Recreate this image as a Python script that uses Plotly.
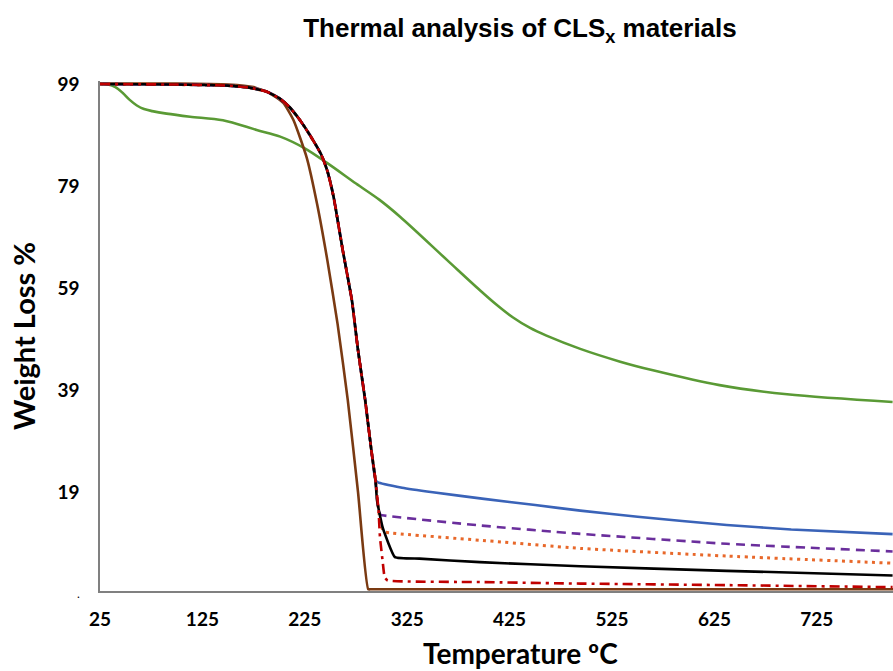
import plotly.graph_objects as go

# ---- data (temperature in °C, weight %) ----
t_common = [25, 100, 150, 171, 188, 201, 210, 220, 230, 241, 247, 253, 262, 271, 277, 284, 290, 294]
w_common = [99, 98.9, 98.7, 98.3, 97.5, 96.1, 94.5, 92.0, 89.0, 85.2, 82.0, 77.0, 66.5, 56.6, 46.8, 37.0, 27.2, 21.4]

t_blue = [296, 320, 350, 400, 450, 494, 550, 637, 700, 799]
w_blue = [21.0, 19.9, 19.0, 17.7, 16.5, 15.4, 14.2, 12.6, 11.7, 10.8]

t_purple = [297, 299, 308, 396, 491, 637, 799]
w_purple = [15.5, 14.6, 14.3, 12.5, 10.9, 8.9, 7.4]

t_orange = [297, 299, 302, 310, 396, 494, 637, 799]
w_orange = [15.5, 13.0, 11.3, 11.0, 9.6, 8.0, 6.5, 5.1]

t_black = [295.5, 301, 313, 337, 396, 494, 637, 799]
w_black = [17.4, 12.1, 6.3, 6.0, 5.3, 4.5, 3.6, 2.7]

t_red = [297, 298.4, 301, 303, 306, 396, 494, 637, 799]
w_red = [15.5, 10.2, 5.5, 2.3, 1.7, 1.4, 1.1, 0.8, 0.4]

t_brown = [25, 100, 150, 175, 190, 204, 214, 227, 237, 247, 257, 267, 277, 287, 290, 800]
w_brown = [99.1, 99.1, 98.9, 98.4, 97.3, 95.3, 91.9, 84.5, 75.5, 64.5, 52.0, 37.0, 19.0, 0.0, 0.0, 0.0]

t_green = [25, 33, 40, 47, 54, 61, 68, 76, 90, 113, 145, 178, 201, 225, 247, 275, 298, 318, 364, 396,
           412, 428, 445, 461, 494, 533, 565, 630, 696, 799]
w_green = [99, 98.9, 98.4, 97.3, 95.9, 94.8, 94.1, 93.7, 93.2, 92.6, 91.9, 90.0, 88.7, 86.4, 83.5, 79.5,
           76.3, 73.0, 64.5, 58.6, 55.8, 53.3, 51.2, 49.7, 47.1, 44.6, 42.9, 40.0, 38.2, 36.7]

x_ticks = [25, 125, 225, 325, 425, 525, 625, 725]
y_ticks = [19, 39, 59, 79, 99]

fig = go.Figure()

def add(tx, wy, color, dash="solid", width=2.6, smooth=0.5):
    fig.add_trace(go.Scatter(x=tx, y=wy, mode="lines", showlegend=False,
                             line=dict(color=color, width=width, dash=dash, shape="spline", smoothing=smooth),
                             hoverinfo="skip"))

add(t_green, w_green, "#5A9A35", smooth=0.9)
add(t_brown, w_brown, "#7A3A12")
add(t_common + t_blue, w_common + w_blue, "#3A63B8")
add(t_common + t_orange, w_common + w_orange, "#E8682A", dash="3px,4.5px", width=3)
add(t_common + t_purple, w_common + w_purple, "#6A2E9C", dash="9px,6px")
add(t_common + t_black, w_common + w_black, "#000000", smooth=0.35)
add(t_common + t_red, w_common + w_red, "#C00000", dash="10px,5px,3px,5px", smooth=0.35)

fig.update_layout(
    width=893, height=671,
    margin=dict(l=100, r=0, t=81, b=80),
    paper_bgcolor="white", plot_bgcolor="white",
    title=dict(text="<b>Thermal analysis of CLS<sub>x</sub> materials</b>",
               x=520/893, xanchor="center", xref="container",
               y=1-28/671, yanchor="middle", yref="container",
               font=dict(family="Liberation Sans, Arial", size=26, color="black")),
    xaxis=dict(range=[25, 799.4], tickvals=x_ticks, ticktext=[str(v) for v in x_ticks],
               showgrid=False, zeroline=False, showline=True, linecolor="#808080", linewidth=1.5,
               ticks="", ticklabelstandoff=10, layer="below traces",
               tickfont=dict(family="Lato", size=19, color="black", weight="bold")),
    yaxis=dict(range=[-0.35, 99.6], tickvals=y_ticks, ticktext=[str(v) for v in y_ticks],
               showgrid=False, zeroline=False, showline=True, linecolor="#808080", linewidth=1.5,
               ticks="", ticklabelstandoff=15, layer="below traces",
               tickfont=dict(family="Lato", size=19, color="black", weight="bold")),
    annotations=[
        dict(text="<b>Temperature ºC</b>", xref="paper", yref="paper",
             x=(520-100)/793, y=-0.121, xanchor="center", yanchor="middle", showarrow=False,
             font=dict(family="Lato", size=28, color="black")),
        dict(text="<b>Weight Loss %</b>", xref="paper", yref="paper",
             x=-(100-23)/793, y=0.5, xanchor="center", yanchor="middle", textangle=-90, showarrow=False,
             font=dict(family="Lato", size=29, color="black")),
        dict(text=".", xref="paper", yref="paper",
             x=-(100-78)/793, y=-0.005, xanchor="center", yanchor="middle", showarrow=False,
             font=dict(family="Lato", size=12, color="black")),
    ],
)

fig.write_html("out.html")
